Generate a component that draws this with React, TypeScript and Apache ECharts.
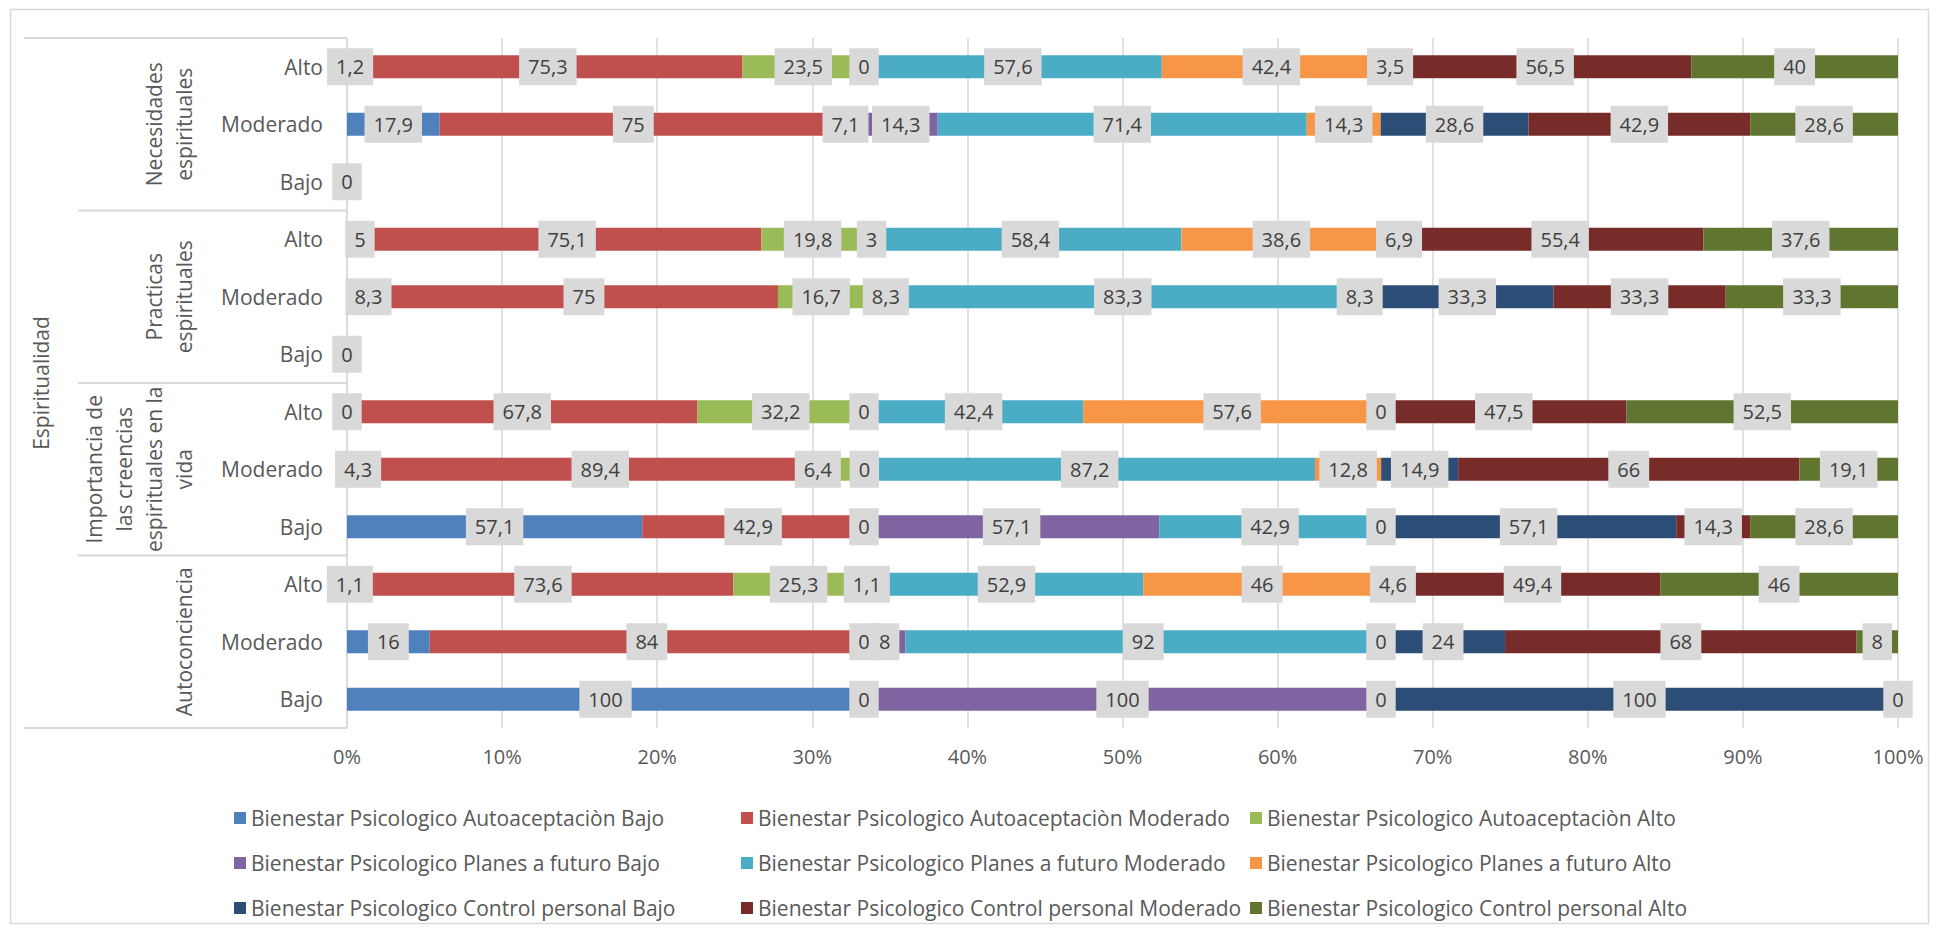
import React, { useEffect, useRef } from "react";
import * as echarts from "echarts";

const groupLabels = [
  "Necesidades\nespirituales",
  "Practicas\nespirituales",
  "Importancia de\nlas creencias\nespirituales en la\nvida",
  "Autoconciencia",
];
const levelLabels = ["Alto", "Moderado", "Bajo"];
const outerLabel = "Espiritualidad";
const xTickValues = [0, 10, 20, 30, 40, 50, 60, 70, 80, 90, 100];

const seriesNames = [
  "Bienestar Psicologico Autoaceptaciòn Bajo",
  "Bienestar Psicologico Autoaceptaciòn Moderado",
  "Bienestar Psicologico Autoaceptaciòn Alto",
  "Bienestar Psicologico Planes a futuro Bajo",
  "Bienestar Psicologico Planes a futuro Moderado",
  "Bienestar Psicologico Planes a futuro Alto",
  "Bienestar Psicologico Control personal Bajo",
  "Bienestar Psicologico Control personal Moderado",
  "Bienestar Psicologico Control personal Alto",
];
const seriesColors = [
  "#4F81BD", "#C0504D", "#9BBB59",
  "#8064A2", "#4BACC6", "#F79646",
  "#2C4D75", "#772C2A", "#5F7530",
];

// rows top to bottom: Nec Alto, Nec Mod, Nec Bajo, Prac Alto, Prac Mod, Prac Bajo,
// Imp Alto, Imp Mod, Imp Bajo, Auto Alto, Auto Mod, Auto Bajo
const autoaceptacionBajo = [1.2, 17.9, 0, 5, 8.3, 0, 0, 4.3, 57.1, 1.1, 16, 100];
const autoaceptacionModerado = [75.3, 75, null, 75.1, 75, null, 67.8, 89.4, 42.9, 73.6, 84, 0];
const autoaceptacionAlto = [23.5, 7.1, null, 19.8, 16.7, null, 32.2, 6.4, 0, 25.3, 0, null];
const planesBajo = [0, 14.3, null, 3, 8.3, null, 0, 0, 57.1, 1.1, 8, 100];
const planesModerado = [57.6, 71.4, null, 58.4, 83.3, null, 42.4, 87.2, 42.9, 52.9, 92, 0];
const planesAlto = [42.4, 14.3, null, 38.6, 8.3, null, 57.6, 12.8, 0, 46, 0, null];
const controlBajo = [3.5, 28.6, null, 6.9, 33.3, null, 0, 14.9, 57.1, 4.6, 24, 100];
const controlModerado = [56.5, 42.9, null, 55.4, 33.3, null, 47.5, 66, 14.3, 49.4, 68, 0];
const controlAlto = [40, 28.6, null, 37.6, 33.3, null, 52.5, 19.1, 28.6, 46, 8, null];

const seriesValues: (number | null)[][] = [
  autoaceptacionBajo, autoaceptacionModerado, autoaceptacionAlto,
  planesBajo, planesModerado, planesAlto,
  controlBajo, controlModerado, controlAlto,
];

// manual label nudges (as in the original, where a label was moved aside)
const labelNudges = [{ series: 2, row: 7, dx: -30 }];

const FONT = "'Open Sans', sans-serif";

export default function App() {
  const ref = useRef<HTMLDivElement>(null);
  useEffect(() => {
    if (!ref.current) return;
    const chart = echarts.init(ref.current, null, { renderer: "svg" });

    const categories: string[] = [];
    groupLabels.forEach((g, gi) => levelLabels.forEach((l) => categories.push(gi + "|" + l)));
    const totals = categories.map((_, r) =>
      seriesValues.reduce((s, arr) => s + (arr[r] == null ? 0 : (arr[r] as number)), 0)
    );

    const gridLeft = 347, gridTop = 38, gridRight = 41, gridHeight = 690;
    const groupH = gridHeight / groupLabels.length;

    const fmt = (v: number) => String(v).replace(".", ",");

    const series = seriesValues.map((arr, si) => ({
      name: seriesNames[si],
      type: "bar",
      stack: "total",
      barWidth: 23,
      itemStyle: { color: seriesColors[si] },
      label: {
        show: true,
        position: ["50%", "50%"],
        align: "center",
        verticalAlign: "middle",
        overflow: "none",
        fontFamily: FONT,
        fontSize: 20,
        lineHeight: 26,
        color: "#404040",
        backgroundColor: "#D9D9D9",
        padding: [6, 9, 5, 9],
        formatter: (p: any) => (p.data && p.data.raw != null ? fmt(p.data.raw) : ""),
      },
      emphasis: { disabled: true },
      data: arr.map((v, r) => {
        if (v == null) return null;
        const item: any = { value: totals[r] > 0 ? (v / totals[r]) * 100 : 0, raw: v };
        const n = labelNudges.find((q) => q.series === si && q.row === r);
        if (n) item.label = { offset: [n.dx, 0] };
        return item;
      }),
    }));

    const graphics: any[] = [
      {
        type: "rect",
        shape: { x: 10.5, y: 9.5, width: 1918, height: 914 },
        style: { fill: "none", stroke: "#D9D9D9", lineWidth: 1.5 },
        silent: true,
      },
      {
        type: "line",
        shape: { x1: 24, y1: gridTop, x2: gridLeft, y2: gridTop },
        style: { stroke: "#D9D9D9", lineWidth: 2 },
      },
      {
        type: "line",
        shape: { x1: 24, y1: gridTop + gridHeight, x2: gridLeft, y2: gridTop + gridHeight },
        style: { stroke: "#D9D9D9", lineWidth: 2 },
      },
      {
        type: "text",
        x: 41,
        y: gridTop + gridHeight / 2,
        rotation: Math.PI / 2,
        style: {
          text: outerLabel,
          fontFamily: FONT,
          fontSize: 21,
          fill: "#595959",
          align: "center",
          verticalAlign: "middle",
        },
      },
    ];
    for (let g = 1; g < groupLabels.length; g++) {
      graphics.push({
        type: "line",
        shape: { x1: 78, y1: gridTop + g * groupH, x2: gridLeft, y2: gridTop + g * groupH },
        style: { stroke: "#D9D9D9", lineWidth: 2 },
      });
    }
    groupLabels.forEach((g, gi) => {
      graphics.push({
        type: "text",
        x: 199,
        y: gridTop + groupH * (gi + 0.5),
        rotation: Math.PI / 2,
        style: {
          text: g,
          fontFamily: FONT,
          fontSize: 21,
          lineHeight: 30,
          fill: "#595959",
          align: "center",
          verticalAlign: "bottom",
        },
      });
    });

    const legendCommon = {
      orient: "vertical",
      top: 801,
      itemWidth: 12,
      itemHeight: 12,
      itemGap: 21,
      icon: "rect",
      selectedMode: false,
      textStyle: { fontFamily: FONT, fontSize: 21, color: "#595959", lineHeight: 24 },
    };

    chart.setOption({
      animation: false,
      backgroundColor: "#ffffff",
      textStyle: { fontFamily: FONT },
      grid: { left: gridLeft, top: gridTop, right: gridRight, height: gridHeight, containLabel: false },
      xAxis: {
        type: "value",
        min: xTickValues[0],
        max: xTickValues[xTickValues.length - 1],
        interval: xTickValues[1] - xTickValues[0],
        axisLine: { show: false },
        axisTick: { show: false },
        splitLine: { show: true, lineStyle: { color: "#D9D9D9", width: 1.5 } },
        axisLabel: {
          formatter: "{value}%",
          fontFamily: FONT,
          fontSize: 20,
          color: "#595959",
          margin: 18,
        },
      },
      yAxis: {
        type: "category",
        inverse: true,
        data: categories,
        axisLine: { show: true, lineStyle: { color: "#D9D9D9", width: 1.5 } },
        axisTick: { show: false },
        axisLabel: {
          fontFamily: FONT,
          fontSize: 21,
          color: "#595959",
          margin: 24,
          formatter: (v: string) => v.split("|")[1],
        },
      },
      legend: [
        { ...legendCommon, left: 229, data: [seriesNames[0], seriesNames[3], seriesNames[6]] },
        { ...legendCommon, left: 736, data: [seriesNames[1], seriesNames[4], seriesNames[7]] },
        { ...legendCommon, left: 1245, data: [seriesNames[2], seriesNames[5], seriesNames[8]] },
      ],
      graphic: graphics,
      series,
    });
    return () => chart.dispose();
  }, []);
  return (
    <div
      ref={ref}
      style={{ position: "fixed", left: 0, top: 0, width: 1939, height: 933, background: "#fff" }}
    />
  );
}
